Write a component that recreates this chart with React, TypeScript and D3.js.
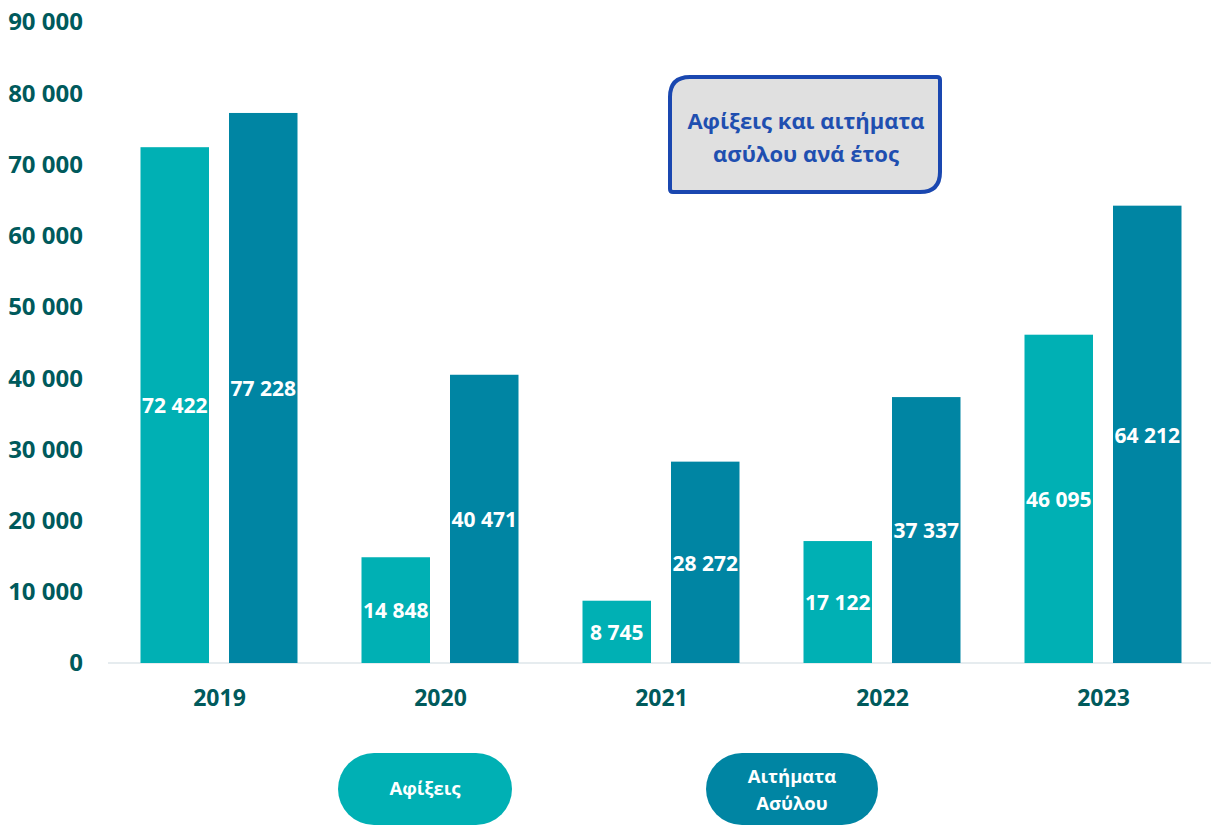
import React from "react";
import * as d3 from "d3";

const years = ["2019", "2020", "2021", "2022", "2023"];
const seriesKeys = ["arrivals", "requests"];
const seriesNames = ["Αφίξεις", "Αιτήματα Ασύλου"];
const arrivals = [72422, 14848, 8745, 17122, 46095];
const requests = [77228, 40471, 28272, 37337, 64212];
const yTicks = [0, 10000, 20000, 30000, 40000, 50000, 60000, 70000, 80000, 90000];
const titleLines = ["Αφίξεις και αιτήματα", "ασύλου ανά έτος"];

const colors = ["#00b0b4", "#0085a3"];
const FONT = "'Open Sans', sans-serif";

const fmt = (v: number) => d3.format(",")(v).replace(/,/g, " ");

export default function App() {
  const W = 1211, H = 827;
  const y = d3.scaleLinear().domain([0, 90000]).range([663, 22]);
  const x0 = d3.scaleBand<string>().domain(years).range([109, 1214]);
  const x1 = d3.scaleBand<string>().domain(seriesKeys).range([31.5, 188.5]).paddingInner(0.226);
  const values = [arrivals, requests];

  return (
    <svg width={W} height={H} style={{ position: "absolute", left: 0, top: 0, background: "#fff" }}>
      {yTicks.map((t) => (
        <text key={t} x={83} y={y(t)} dy="0.35em" textAnchor="end" fontFamily={FONT} fontWeight={700}
          fontSize={24} fill="#005a5c">{fmt(t)}</text>
      ))}
      <line x1={108} x2={1213} y1={y(0)} y2={y(0)} stroke="#e6ecef" strokeWidth={2} />
      {years.map((yr, i) => (
        <g key={yr} transform={`translate(${x0(yr)},0)`}>
          {seriesKeys.map((k, s) => {
            const v = values[s][i];
            const bx = x1(k)!;
            const bw = x1.bandwidth();
            return (
              <g key={k}>
                <rect x={bx} y={y(v)} width={bw} height={y(0) - y(v)} fill={colors[s]} />
                <text x={bx + bw / 2} y={(y(v) + y(0)) / 2 + 1} dy="0.35em" textAnchor="middle"
                  fontFamily={FONT} fontWeight={700} fontSize={21} fill="#fff">{fmt(v)}</text>
              </g>
            );
          })}
          <text x={x0.bandwidth() / 2} y={698} dy="0.35em" textAnchor="middle" fontFamily={FONT}
            fontWeight={700} fontSize={23} fill="#005a5c">{yr}</text>
        </g>
      ))}
      <path d="M 690 77 L 937 77 Q 940 77 940 80 L 940 172 Q 940 192 920 192 L 673 192 Q 670 192 670 189 L 670 97 Q 670 77 690 77 Z"
        fill="#e0e0e0" stroke="#1a47b0" strokeWidth={4} />
      {titleLines.map((l, i) => (
        <text key={i} x={806} y={121 + i * 33} dy="0.35em" textAnchor="middle" fontFamily={FONT}
          fontWeight={700} fontSize={22} fill="#1f4fb0">{l}</text>
      ))}
      <rect x={338} y={753} width={174} height={72} rx={36} fill={colors[0]} />
      <text x={425} y={789} dy="0.35em" textAnchor="middle" fontFamily={FONT} fontWeight={700}
        fontSize={18.5} fill="#fff">{seriesNames[0]}</text>
      <rect x={706} y={753} width={172} height={72} rx={36} fill={colors[1]} />
      {seriesNames[1].split(" ").map((w, i) => (
        <text key={i} x={792} y={777 + i * 27} dy="0.35em" textAnchor="middle" fontFamily={FONT}
          fontWeight={700} fontSize={18.5} fill="#fff">{w}</text>
      ))}
    </svg>
  );
}
